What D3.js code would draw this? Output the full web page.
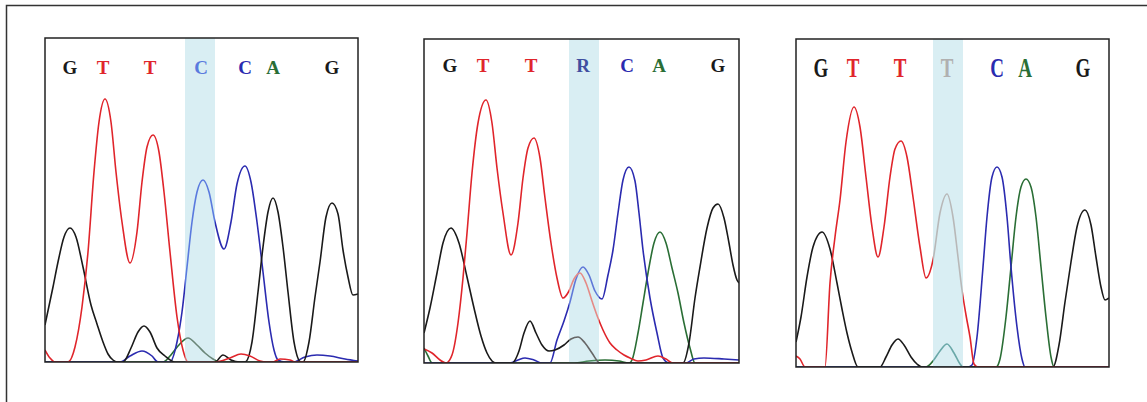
<!DOCTYPE html>
<html>
<head>
<meta charset="utf-8">
<script src="https://cdn.jsdelivr.net/npm/d3@7"></script>
<style>
  body { margin: 0; background: #fff; }
  svg { display: block; }
</style>
</head>
<body>
<svg id="canvas"></svg>
<script>
// base calls above each trace (scan position of each call)
const calls1 = ["G", "T", "T", "C", "C", "A", "G"];
const callPos1 = [25, 58, 105, 156, 200, 228, 287];
const calls2 = ["G", "T", "T", "R", "C", "A", "G"];
const callPos2 = [26, 59, 107, 159, 203, 235, 294];
const calls3 = ["G", "T", "T", "T", "C", "A", "G"];
const callPos3 = [25, 57, 104, 151, 201, 229, 287];

// highlighted (variant) position, scan units
const band1 = [140, 170];
const band2 = [145, 175];
const band3 = [137, 167];

// traces: [scan position, signal]
// panel 1 - wild type
const g1 = [[0,37],[8,75],[13,100],[19,125],[25,134],[31,125],[38,95],[46,57],[52,38],[58,20],[63,8],[68,2],[72,0],[78,0],[86,14],[93,30],[99,36],[105,30],[112,14],[120,6],[130,0],[170,0],[178,7],[186,2],[195,0],[200,0],[207,20],[213,70],[218,115],[223,150],[228,164],[233,150],[238,115],[243,70],[249,20],[256,0],[258,0],[264,20],[270,65],[275,100],[281,145],[287,159],[293,148],[298,112],[303,85],[308,67],[313,68]];
const t1 = [[0,12],[5,4],[10,0],[23,0],[30,15],[37,55],[43,110],[49,190],[54,240],[60,263],[66,240],[71,190],[77,140],[85,99],[92,130],[97,180],[102,215],[108,227],[114,210],[119,170],[125,110],[132,45],[138,12],[143,0],[170,0],[185,4],[196,8],[205,6],[215,1],[222,0],[228,0],[235,3],[245,2],[250,0],[313,0]];
const c1 = [[0,0],[75,0],[85,6],[97,11],[107,6],[113,0],[125,0],[132,20],[137,50],[142,95],[147,140],[152,170],[158,182],[164,170],[170,140],[179,113],[186,140],[192,178],[200,196],[206,180],[212,140],[218,90],[224,40],[229,12],[233,2],[240,0],[248,0],[260,5],[272,7],[285,6],[300,3],[313,1]];
const a1 = [[0,0],[118,0],[125,6],[133,16],[143,24],[152,17],[160,9],[168,3],[175,0],[313,0]];

// panel 2 - heterozygous (R)
const g2 = [[0,30],[6,55],[13,90],[19,120],[27,135],[35,120],[43,86],[50,55],[57,27],[63,10],[68,2],[72,0],[88,0],[95,12],[100,30],[106,42],[112,30],[118,18],[125,12],[131,13],[140,18],[147,24],[154,26],[161,20],[168,10],[176,0],[259,0],[265,20],[271,65],[276,96],[283,135],[289,155],[294,159],[300,145],[305,120],[309,98],[313,83],[315,80]];
const t2 = [[0,14],[8,10],[16,3],[22,0],[28,8],[34,40],[39,85],[43,130],[48,190],[54,240],[62,263],[68,240],[73,195],[79,150],[87,108],[94,140],[99,185],[104,215],[110,225],[116,205],[121,165],[127,120],[133,85],[139,65],[145,72],[150,84],[156,90],[162,80],[168,62],[174,45],[179,33],[186,20],[193,13],[200,8],[206,5],[214,2],[222,3],[234,7],[242,4],[249,0],[315,0]];
const c2 = [[0,0],[86,0],[94,3],[101,5],[110,3],[118,0],[126,0],[133,23],[140,42],[146,61],[152,84],[159,96],[165,88],[171,72],[178,64],[184,88],[189,113],[194,150],[199,183],[205,196],[211,182],[215,150],[219,113],[226,65],[233,30],[239,5],[245,0],[262,0],[270,4],[280,5],[300,4],[315,3]];
const a2 = [[0,15],[4,7],[8,0],[150,0],[165,2],[181,3],[195,2],[205,0],[208,3],[214,30],[219,60],[224,90],[230,120],[236,131],[242,120],[248,95],[254,70],[260,40],[266,15],[271,0],[315,0]];

// panel 3 - homozygous
const g3 = [[0,25],[5,50],[11,90],[17,120],[26,135],[34,118],[41,84],[46,58],[51,34],[56,15],[62,0],[84,0],[90,10],[96,22],[102,28],[108,22],[115,10],[121,3],[126,0],[257,0],[263,22],[269,65],[275,105],[281,140],[289,157],[295,142],[300,110],[305,80],[309,67],[313,69]];
const t3 = [[0,11],[4,8],[9,0],[29,0],[34,84],[39,130],[44,167],[50,225],[58,260],[64,240],[70,190],[76,140],[82,110],[88,140],[94,190],[99,218],[105,226],[111,210],[117,170],[124,120],[130,89],[137,107],[144,154],[151,173],[157,150],[162,110],[166,77],[170,52],[174,30],[178,3],[182,0],[313,0]];
const c3 = [[0,0],[172,0],[176,2],[181,30],[187,100],[191,150],[196,190],[201,200],[206,190],[211,150],[215,100],[221,40],[226,8],[229,0],[313,0]];
const a3 = [[0,0],[130,0],[137,6],[144,16],[151,23],[158,14],[164,3],[167,0],[200,0],[204,8],[210,50],[215,100],[220,150],[225,180],[230,188],[235,180],[240,150],[245,100],[250,50],[255,10],[258,0],[313,0]];

const svg = d3.select("#canvas");
const width = 1147;
const height = 402;
svg.attr("width", width).attr("height", height);

// outer figure frame (only top and left edges show)
svg.append("path")
    .attr("d", `M6.5,${height} V5.5 H${width}`)
    .attr("fill", "none")
    .attr("stroke", "#333")
    .attr("stroke-width", 1.5);

const colors = { A: "#2a6e35", C: "#2b2bb0", G: "#1a1a1a", T: "#e0252b" };
// colours of the traces inside the highlighted column
const bandColors = [
    { A: "#6a8678", C: "#5a7ade", G: "#555", T: "#e07070" },
    { A: "#4a8a5a", C: "#6078d8", G: "#666", T: "#e58a86" },
    { A: "#6aa8a8", C: "#5a70d0", G: "#555", T: "#b8b8b8" }
];
const letterColors = [
    { band: "#5a7ade" },
    { band: "#3f4fa0" },
    { band: "#b0b0b0" }
];

const panels = [
    { box: { x: 45, y: 38, w: 313, h: 324 }, xMax: 313, yMax: 324, calls: calls1, pos: callPos1, band: band1,
      traces: { A: a1, C: c1, G: g1, T: t1 }, letterY: 73.5, stretch: 1 },
    { box: { x: 424, y: 39, w: 315, h: 324 }, xMax: 315, yMax: 324, calls: calls2, pos: callPos2, band: band2,
      traces: { A: a2, C: c2, G: g2, T: t2 }, letterY: 72, stretch: 1 },
    { box: { x: 796, y: 39, w: 313, h: 328 }, xMax: 313, yMax: 328, calls: calls3, pos: callPos3, band: band3,
      traces: { A: a3, C: c3, G: g3, T: t3 }, letterY: 77.3, stretch: 1.39 }
];

const defs = svg.append("defs");

panels.forEach((p, i) => {
    const b = p.box;
    const xScale = d3.scaleLinear().domain([0, p.xMax]).range([b.x, b.x + b.w]);
    const yScale = d3.scaleLinear().domain([0, p.yMax]).range([b.y + b.h, b.y]);

    const bx0 = xScale(p.band[0]);
    const bx1 = xScale(p.band[1]);

    // clip: panel outside the band, and the band itself
    const outClip = defs.append("clipPath").attr("id", "out" + i);
    outClip.append("rect").attr("x", b.x).attr("y", b.y).attr("width", bx0 - b.x).attr("height", b.h);
    outClip.append("rect").attr("x", bx1).attr("y", b.y).attr("width", b.x + b.w - bx1).attr("height", b.h);
    defs.append("clipPath").attr("id", "in" + i)
        .append("rect").attr("x", bx0).attr("y", b.y).attr("width", bx1 - bx0).attr("height", b.h);

    const g = svg.append("g");

    // highlighted column
    g.append("rect")
        .attr("x", bx0).attr("y", b.y)
        .attr("width", bx1 - bx0).attr("height", b.h)
        .attr("fill", "#d9eef3");

    const line = d3.line()
        .x(d => xScale(d[0]))
        .y(d => yScale(d[1]))
        .curve(d3.curveMonotoneX);

    const order = ["A", "C", "G", "T"];
    g.append("g").attr("clip-path", `url(#out${i})`)
        .selectAll("path")
        .data(order)
        .join("path")
            .attr("d", k => line(p.traces[k]))
            .attr("fill", "none")
            .attr("stroke", k => colors[k])
            .attr("stroke-width", 1.6);

    g.append("g").attr("clip-path", `url(#in${i})`)
        .selectAll("path")
        .data(order)
        .join("path")
            .attr("d", k => line(p.traces[k]))
            .attr("fill", "none")
            .attr("stroke", k => bandColors[i][k])
            .attr("stroke-width", 1.6);

    // base calls
    g.append("g")
        .selectAll("text")
        .data(p.calls)
        .join("text")
            .attr("transform", (d, j) => `translate(${xScale(p.pos[j])},${p.letterY}) scale(1,${p.stretch})`)
            .attr("text-anchor", "middle")
            .attr("font-family", "'Liberation Serif', 'DejaVu Serif', serif")
            .attr("font-weight", "bold")
            .attr("font-size", 19)
            .attr("fill", (d, j) => j === 3 ? letterColors[i].band : colors[d])
            .text(d => d);

    // panel border
    g.append("rect")
        .attr("x", b.x).attr("y", b.y)
        .attr("width", b.w).attr("height", b.h)
        .attr("fill", "none")
        .attr("stroke", "#222")
        .attr("stroke-width", 1.5);
});
</script>
</body>
</html>
